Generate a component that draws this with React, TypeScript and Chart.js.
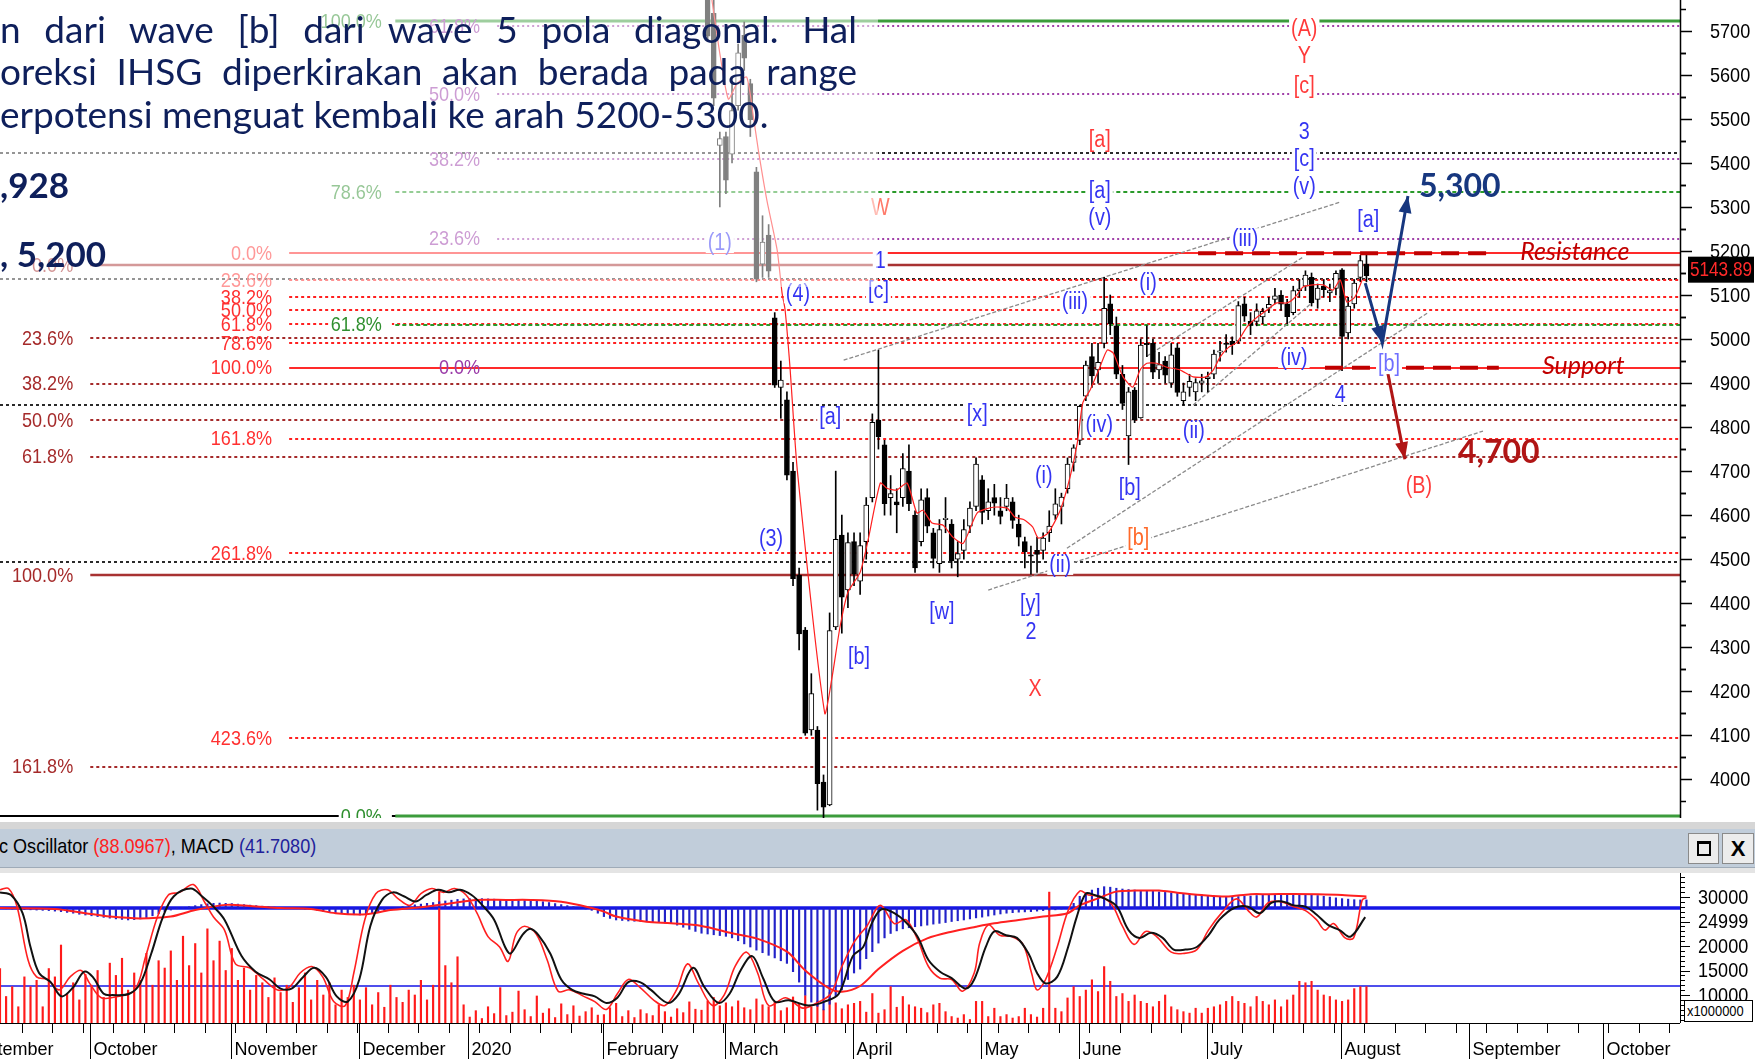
import React, { useEffect, useRef } from "react";
import { Chart, registerables } from "chart.js";

Chart.register(...registerables);

const SANS = '"Liberation Sans", Arial, sans-serif';
const LATO = 'Lato, "Open Sans", sans-serif';
const NARROW_SCALE = 0.86; // Arial-Narrow-like condensing of Liberation Sans

// ---------------- x axis : trading-day index ----------------
const X_MIN = 0;
const X_MAX = 275.4;
const monthStarts: [string, number][] = [
  ["September", -6], ["October", 15], ["November", 38], ["December", 59], ["2020", 77],
  ["February", 99], ["March", 119], ["April", 140], ["May", 161], ["June", 177],
  ["July", 198], ["August", 220], ["September", 241], ["October", 263],
];

// ---------------- price panel ----------------
const PRICE_MIN = 3912.2;
const PRICE_MAX = 5770;
const priceTicks = [4000, 4100, 4200, 4300, 4400, 4500, 4600, 4700, 4800, 4900, 5000, 5100, 5200, 5300, 5400, 5500, 5600, 5700];
const lastClose = 5143.89;

const candleStart = 116; // index of first candle (26 Feb 2020)
// [open, high, low, close]
const candles: number[][] = [
  [5775, 5800, 5680, 5688], [5740, 5775, 5530, 5547], [5440, 5470, 5300, 5455], [5460, 5470, 5330, 5361],
  [5420, 5580, 5400, 5519], [5530, 5670, 5520, 5650], [5690, 5720, 5610, 5638], [5580, 5590, 5460, 5498],
  [5380, 5390, 5130, 5136], [5170, 5280, 5140, 5220], [5236, 5260, 5140, 5154], [5048, 5060, 4890, 4895],
  [4890, 4950, 4820, 4907], [4862, 4880, 4680, 4691], [4700, 4720, 4440, 4456], [4464, 4480, 4294, 4330],
  [4339, 4345, 4100, 4105], [4112, 4240, 4100, 4195], [4112, 4120, 3930, 3990], [3994, 4010, 3912, 3937],
  [3942, 4378, 3940, 4338], [4346, 4700, 4340, 4545], [4555, 4600, 4332, 4414], [4430, 4560, 4390, 4538],
  [4540, 4560, 4440, 4466], [4450, 4560, 4420, 4531], [4540, 4640, 4500, 4623], [4640, 4830, 4630, 4811],
  [4816, 4975, 4750, 4778], [4760, 4770, 4600, 4626], [4640, 4690, 4600, 4649], [4630, 4660, 4560, 4623],
  [4640, 4740, 4620, 4706], [4700, 4760, 4610, 4626], [4600, 4610, 4470, 4480], [4540, 4660, 4530, 4635],
  [4640, 4660, 4560, 4575], [4560, 4570, 4480, 4502], [4490, 4590, 4470, 4567], [4590, 4640, 4560, 4593],
  [4580, 4590, 4480, 4496], [4500, 4540, 4460, 4513], [4520, 4590, 4500, 4567], [4575, 4630, 4560, 4616],
  [4620, 4730, 4610, 4716], [4680, 4690, 4580, 4606], [4610, 4660, 4590, 4630], [4640, 4670, 4600, 4627],
  [4610, 4640, 4580, 4597], [4620, 4670, 4610, 4639], [4630, 4640, 4570, 4588], [4580, 4600, 4530, 4550],
  [4540, 4550, 4480, 4517], [4510, 4530, 4466, 4507], [4520, 4550, 4470, 4511], [4520, 4560, 4500, 4548],
  [4560, 4610, 4540, 4575], [4600, 4660, 4590, 4626], [4620, 4650, 4580, 4641], [4660, 4730, 4650, 4716],
  [4720, 4760, 4700, 4753], [4770, 4850, 4760, 4847], [4870, 4950, 4860, 4941], [4960, 4990, 4890, 4916],
  [4930, 4990, 4900, 4947], [4990, 5140, 4980, 5070], [5080, 5100, 5010, 5035], [5030, 5050, 4910, 4920],
  [4920, 4940, 4840, 4854], [4780, 4890, 4715, 4880], [4884, 4890, 4810, 4816], [4821, 5000, 4820, 4986],
  [4990, 5030, 4960, 4987], [4990, 5000, 4910, 4925], [4930, 4970, 4910, 4942], [4950, 4960, 4900, 4918],
  [4900, 4990, 4890, 4964], [4980, 4990, 4870, 4879], [4860, 4900, 4850, 4880], [4890, 4920, 4870, 4904],
  [4880, 4910, 4860, 4901], [4900, 4920, 4880, 4905], [4910, 4925, 4880, 4914], [4920, 4975, 4910, 4966],
  [4970, 4995, 4950, 4973], [4990, 5010, 4970, 4988], [4995, 5005, 4965, 4987], [4995, 5085, 4990, 5076],
  [5080, 5095, 5040, 5052], [5040, 5060, 5010, 5031], [5040, 5080, 5030, 5064], [5050, 5070, 5035, 5063],
  [5070, 5095, 5060, 5079], [5090, 5115, 5080, 5098], [5100, 5110, 5065, 5079], [5080, 5090, 5035, 5051],
  [5060, 5120, 5055, 5110], [5110, 5135, 5095, 5114], [5120, 5155, 5110, 5145], [5140, 5150, 5075, 5082],
  [5090, 5125, 5070, 5116], [5120, 5135, 5095, 5112], [5105, 5125, 5085, 5110], [5115, 5155, 5100, 5149],
  [5157, 5160, 4928, 5006], [5014, 5095, 5000, 5075], [5080, 5135, 5070, 5127], [5140, 5190, 5130, 5178],
  [5170, 5195, 5130, 5144],
];

// red moving-average line on the candles: [index, price]
const maLine: number[][] = [
  [116.7, 5770], [118.1, 5640], [119.4, 5545], [120.8, 5580], [122.4, 5595], [123.5, 5505], [124.3, 5430],
  [125.7, 5316], [127.4, 5202], [128.2, 5105], [128.7, 5066], [129.5, 4936], [130.7, 4702], [135.2, 4150],
  [136.4, 4232], [137.7, 4346], [139, 4425], [141, 4470], [142.3, 4543], [144.3, 4673], [145.4, 4661],
  [147, 4657], [148.7, 4673], [150.3, 4605], [151.3, 4611], [152.8, 4582], [154.6, 4577], [156.2, 4550],
  [157.9, 4536], [160.2, 4605], [162.8, 4618], [165.1, 4616], [166.4, 4595], [167.8, 4590], [169.3, 4573],
  [170.2, 4548], [171.8, 4559], [173.8, 4611], [175.4, 4686], [176.6, 4764], [177.5, 4855], [178.7, 4884],
  [180.3, 4936], [181.5, 4975], [182.5, 4968], [184.1, 4914], [185.7, 4891], [186.9, 4930], [188, 4945],
  [189.6, 4945], [191.3, 4936], [193.4, 4930], [195.6, 4914], [197.7, 4914], [198.9, 4930], [200, 4959],
  [201.3, 4980], [202.8, 4993], [204.4, 5027], [206.1, 5050], [207.7, 5066], [209.3, 5082], [211, 5082],
  [212.3, 5095], [213.6, 5118], [215.2, 5123], [216.9, 5123], [218.5, 5111], [219.7, 5134], [220.8, 5084],
  [222.1, 5095], [223.3, 5134],
];

// Fibonacci levels
const blackDotLevels = [5423, 5136, 4850, 4493];
const darkRedDotted = [5002, 4899, 4816, 4733, 4029];
const darkRedDottedLabels = ["23.6%", "38.2%", "50.0%", "61.8%", "161.8%"];
const darkRedSolid = [5168, 4464];
const darkRedSolidLabels = ["0.0%", "100.0%"];
const redDotted = [5134, 5096, 5065, 5034, 4991, 4774, 4514, 4094];
const redDottedLabels = ["23.6%", "38.2%", "50.0%", "61.8%", "78.6%", "161.8%", "261.8%", "423.6%"];
const redSolid = [5195, 4935];
const redSolidLabels = ["0.0%", "100.0%"];
const purpleDotted = [5710, 5556, 5409, 5228];
const purpleDottedLabels = ["61.8%", "50.0%", "38.2%", "23.6%"];
const purpleZero = [4935];
const purpleZeroLabels = ["0.0%"];
const greenDashed = [5333, 5033];
const greenDashedLabels = ["78.6%", "61.8%"];
const greenSolid = [5722, 3916];
const greenSolidLabels = ["100.0%", "0.0%"];

// Elliott-wave labels: [text, index, price]
const blueWaveLabels: [string, number, number][] = [
  ["3", 213.8, 5472], ["[c]", 213.8, 5409], ["(v)", 213.8, 5345], ["[a]", 180.3, 5338], ["(v)", 180.3, 5275],
  ["(1)", 118, 5218], ["1", 144.3, 5177], ["[c]", 144, 5109], ["(4)", 130.8, 5104], ["(iii)", 204.1, 5229],
  ["[a]", 224.3, 5270], ["(iii)", 176.2, 5084], ["(i)", 188.2, 5127], ["(iv)", 212.1, 4957], ["4", 219.7, 4873],
  ["[a]", 136.1, 4823], ["[x]", 160.2, 4830], ["(iv)", 180.2, 4805], ["(ii)", 195.7, 4791], ["(i)", 171.1, 4689],
  ["[b]", 185.2, 4662], ["(3)", 126.4, 4546], ["(ii)", 173.8, 4487], ["[w]", 154.4, 4380], ["[y]", 168.9, 4398],
  ["2", 169, 4335], ["[b]", 140.8, 4278],
];
const paleBlueWaveLabels: [string, number, number][] = [["[b]", 227.7, 4943]];
const redWaveLabels: [string, number, number][] = [
  ["(A)", 213.8, 5706], ["Y", 213.8, 5643], ["[c]", 213.8, 5575], ["[a]", 180.3, 5452], ["X", 169.7, 4207], ["(B)", 232.6, 4668],
];
const salmonWaveLabels: [string, number, number][] = [["W", 144.3, 5298]];
const orangeWaveLabels: [string, number, number][] = [["[b]", 186.6, 4550]];

// grey channel lines: [index1, price1, index2, price2]
const trendLines: number[][] = [
  [138.3, 4952, 219.7, 5311],
  [188, 4961, 213.6, 5186],
  [195.6, 4850, 215.2, 5084],
  [174.9, 4525, 234, 5059],
  [162, 4430, 243.1, 4791],
];

const resistanceLevel = 5195;
const resistanceSpan = [196.4, 244];
const supportLevel = 4935;
const supportSpan = [217.2, 245.7];
const bluePath: number[][] = [[223.8, 5127], [226.6, 4991], [230.8, 5325]];
const redPath: number[][] = [[227.4, 4930], [230.3, 4727]];
// text notes: [text, index, baseline price]
const targetUp: [string, number, number] = ["5,300", 232.6, 5322];
const targetDown: [string, number, number] = ["4,700", 239, 4718];
const resistanceNote: [string, number, number] = ["Resistance", 249.2, 5180];
const supportNote: [string, number, number] = ["Support", 252.8, 4920];

// ---------------- oscillator panel ----------------
const volume = [
  15400, 9700, 11700, 7600, 13700, 11700, 13000, 7600, 15400, 13700, 20200, 10300, 12500, 9000, 14200,
  12000, 15000, 9500, 16500, 14000, 17500, 11000, 14500, 13000, 18500, 12000, 17000, 15500, 19000, 13000, 22000, 16000, 20500, 14500, 23500, 17000, 21000, 15000,
  19500, 13000, 15500, 11000, 14000, 12500, 9500, 13500, 10500, 12000, 8500, 11500, 14500, 9000, 13000, 10000, 12500, 8000, 11000, 9500, 12000,
  9000, 11500, 8000, 10500, 7500, 12000, 9500, 8500, 11000, 10000, 13000, 9000, 12000, 31000, 16000, 12500, 17800, 8000,
  5500, 6800, 5200, 7600, 6200, 11500, 5800, 6500, 10800, 7000, 5600, 9800, 6300, 7200, 5400, 8200, 6000, 7800, 5700, 6600, 7400, 5900,
  6000, 7400, 8300, 5600, 6800, 5400, 7000, 6200, 5800, 8000, 6600, 5500, 7200, 6400, 8600, 7100, 6900, 8800, 9500, 7800,
  8400, 7600, 8800, 7400, 7000, 9200, 8000, 7600, 8600, 6800, 7400, 9600, 8200, 9900, 7500, 8800, 7000, 10500, 8400, 7200, 8000,
  8300, 8700, 6500, 10300, 6300, 7000, 11700, 7500, 9700, 8000, 7600, 7300, 6400, 8000, 8300, 6600, 5600, 5300, 6000, 5000, 8700,
  8700, 5600, 7300, 5600, 6000, 5300, 5600, 7300, 6000, 5500, 7300, 31000, 7300, 6600, 9400, 11700,
  9700, 11000, 13100, 10700, 15800, 12800, 9700, 10300, 8700, 10000, 8700, 8300, 7600, 8700, 10000, 7600, 7000, 6600, 6300, 7300, 6300,
  7300, 7600, 8000, 8700, 9700, 8700, 8300, 7600, 9700, 8700, 8000, 9000, 7600, 9000, 10000, 12800, 12500, 12800, 11000, 10000, 9700, 9000,
  8700, 9000, 11300, 11700, 11700,
];
const volumeTicks = [10000, 15000, 20000, 24999, 30000];

const macdHist = [
  -2, -3, -4, -5, -6, -7, -8, -9, -10, -12,
  -14, -17, -20, -24, -27, -30, -33, -36, -39, -42, -44, -46, -45, -42, -37, -30, -22, -14,
  -8, -3, 2,
  5, 9, 13, 16, 18, 19, 18, 17, 15, 13, 11,
  9, 7, 5, 3, 1, 0, -1, -2, -4, -6, -9,
  -13, -16, -19, -21, -24, -26, -27, -24, -20,
  -14, -9, -4, 1, 5, 9, 12, 15, 18, 21,
  24, 27, 30, 33, 35, 36, 37,
  36, 35, 34, 33, 32, 31, 30, 29, 28, 26, 24, 21, 17, 13,
  9, 5, 1, -4, -9,
  -20, -33, -40, -46, -48, -50, -51, -52, -53, -55, -56, -58, -59, -66, -74, -82, -90, -97, -100, -103, -106, -109,
  -115, -126, -138, -150, -162, -172, -182, -192, -203, -213, -245, -285, -335, -362, -378, -392, -370, -340, -315,
  -275, -250, -235, -195, -168, -135,
  -115, -98, -88, -80, -76, -72, -69, -66, -62, -59, -56, -52, -49, -46, -42, -38, -35, -31, -27, -23, -20, -18,
  -16, -15, -14, -12, -10, -8, -7, -4, 0, 18,
  45, 58, 69, 76, 82, 80, 76, 73, 71, 69, 68, 66, 64, 62, 60, 58, 56, 55, 53, 51, 50, 48, 46, 45, 44, 44, 44, 45,
  46, 48, 49, 50, 50, 50, 51, 50, 50, 50, 49, 48, 45, 42, 39, 36, 34, 32, 31, 31,
];
const macdSignal: number[][] = [
  [0, 0], [9, -4], [14, -20], [18, -33], [23, -40], [28, -33], [32, -8], [37, 12], [41, 8], [46, 0], [51, -4],
  [55, -20], [60, -24], [64, -8], [69, 3], [74, 18], [78, 31], [83, 31], [87, 31], [92, 24], [97, 0], [99, -14],
  [101, -33], [106, -53], [110, -59], [115, -69], [120, -97], [124, -117], [129, -168], [132, -240], [136, -310],
  [138, -322], [141, -300], [144, -235], [148, -165], [152, -117], [156, -91], [160, -72], [163, -59], [167, -46],
  [171, -33], [175, -20], [177, 10], [180, 37], [183, 63], [186, 67], [190, 67], [193, 59], [197, 50], [201, 44],
  [205, 53], [208, 53], [212, 54], [216, 53], [220, 50], [224, 44],
];
const stochFast: number[][] = [
  [0, 94], [1.4, 95], [2.8, 81], [4.6, 40], [6, 27], [7.8, 25], [9.7, 17], [11.5, 27], [13.3, 32], [14.7, 22],
  [16.6, 11], [19.3, 12], [22.1, 17], [23.9, 43], [25.8, 73], [27.6, 90], [29.4, 92], [31.7, 98], [33.6, 84],
  [35, 73], [36.8, 63], [38.6, 37], [40.9, 34], [43.2, 25], [45.5, 17], [47.4, 19], [49.2, 30], [51.1, 35],
  [52.9, 27], [54.7, 8], [56.6, 5], [58, 30], [59.8, 71], [61.6, 91], [63.5, 94], [65.3, 87], [67.2, 82], [69, 91],
  [70.8, 95], [72.7, 92], [74.5, 95], [76.4, 90], [78.2, 76], [80, 58], [81.9, 50], [83.3, 39], [84.6, 60], [86, 66],
  [87.9, 60], [89.7, 40], [91.5, 16], [93.4, 17], [95.7, 12], [97.5, 8], [99.4, 2], [101.2, 14], [103, 25],
  [104.9, 19], [107.2, 9], [109, 5], [110.9, 17], [112.7, 37], [114.5, 22], [116.8, 5], [118.7, 13], [120.5, 35],
  [122.4, 46], [124.2, 30], [126, 5], [128.8, 11], [131.6, 3], [134.3, 8], [136.2, 14], [138, 35], [139.8, 52],
  [141, 60], [142.1, 66], [144.3, 82], [146.6, 68], [148.5, 71], [150.4, 56], [152.2, 35], [154.1, 26], [156, 25],
  [157.8, 16], [159.7, 30], [160.6, 53], [162, 67], [163.9, 59], [165.8, 58], [167.7, 52], [169.1, 30], [170, 17],
  [171.4, 25], [173.3, 50], [175.1, 78], [177, 93], [178.4, 90], [180.3, 89], [182.2, 83], [184, 66], [185.9, 52],
  [187.8, 62], [189.6, 58], [192, 46], [193.9, 45], [196.2, 48], [198.1, 63], [200.4, 77], [202.7, 87], [204.6, 78],
  [206, 73], [207.9, 84], [209.8, 85], [212.1, 81], [214, 78], [215.8, 71], [217.2, 63], [218.6, 68], [220.5, 57],
  [221.9, 57], [223.3, 86], [224, 88],
];
const stochSlow: number[][] = [
  [0, 92], [1.8, 90], [3.7, 76], [5, 50], [6.4, 30], [8.3, 23], [10.1, 12], [12, 19], [13.8, 31], [15.2, 27],
  [17, 14], [18.4, 13], [21.2, 14], [23, 22], [24.8, 45], [26.7, 73], [28.5, 89], [31.3, 95], [33.1, 89], [35, 81],
  [36.8, 71], [39.6, 43], [41.9, 31], [44.2, 25], [46, 18], [47.8, 18], [49.7, 27], [51.5, 34], [53.4, 27],
  [55.2, 12], [57, 8], [58.9, 25], [60.7, 66], [62.6, 86], [64.4, 92], [66.2, 89], [68.1, 85], [69.9, 90],
  [71.8, 94], [73.6, 92], [75.4, 94], [77.3, 90], [79.1, 82], [81, 71], [82.8, 50], [83.7, 45], [85.6, 59],
  [86.9, 64], [88.3, 59], [90.2, 45], [92, 25], [93.8, 17], [95.7, 14], [97.5, 12], [99.4, 7], [101.2, 11],
  [103, 23], [104.9, 23], [106.7, 17], [109.5, 7], [111.3, 14], [113.6, 34], [115.5, 19], [117.8, 7], [119.6, 14],
  [121.4, 32], [123.3, 43], [125.1, 26], [127, 8], [129.3, 9], [132.5, 5], [135.2, 8], [137.5, 14], [139.8, 43],
  [141.5, 50], [142.9, 68], [144.5, 79], [146.6, 76], [148.5, 69], [150.4, 58], [152.2, 40], [154.1, 31], [156, 26],
  [158.3, 18], [159.7, 25], [161.6, 50], [163, 62], [164.9, 59], [166.7, 57], [168.6, 45], [170, 30], [171.4, 22],
  [173.3, 27], [175.1, 50], [176.5, 73], [178, 91], [179.4, 90], [181.2, 87], [183.1, 81], [185, 63], [186.8, 57],
  [188.7, 61], [190.6, 57], [192.4, 48], [194.3, 48], [196.2, 50], [198.1, 59], [199.9, 71], [202.3, 80],
  [204.6, 81], [206.5, 76], [208.4, 84], [210.2, 85], [212.1, 82], [214, 81], [215.8, 75], [217.7, 67],
  [219.6, 63], [221.4, 58], [223.8, 73],
];
const stochLevels = [80, 20];

// ---------------- helpers ----------------
const pts = (arr: number[][]) => arr.map(([x, y]) => ({ x, y }));

// condensed text (Liberation Sans squeezed horizontally, like Arial Narrow)
function narrowText(ctx: CanvasRenderingContext2D, t: string, x: number, y: number, size: number, align: "left" | "right" | "center") {
  ctx.save();
  ctx.font = `${size}px ${SANS}`;
  ctx.translate(x, y);
  ctx.scale(NARROW_SCALE, 1);
  ctx.textAlign = align;
  ctx.fillText(t, 0, 0);
  ctx.restore();
}
function narrowWidth(ctx: CanvasRenderingContext2D, t: string, size: number) {
  ctx.save();
  ctx.font = `${size}px ${SANS}`;
  const w = ctx.measureText(t).width * NARROW_SCALE;
  ctx.restore();
  return w;
}

function arrowHead(ctx: CanvasRenderingContext2D, x0: number, y0: number, x1: number, y1: number, color: string) {
  const a = Math.atan2(y1 - y0, x1 - x0);
  const len = 17, half = 6.5;
  ctx.fillStyle = color;
  ctx.beginPath();
  ctx.moveTo(x1, y1);
  ctx.lineTo(x1 - len * Math.cos(a) + half * Math.sin(a), y1 - len * Math.sin(a) - half * Math.cos(a));
  ctx.lineTo(x1 - len * Math.cos(a) - half * Math.sin(a), y1 - len * Math.sin(a) + half * Math.cos(a));
  ctx.closePath();
  ctx.fill();
}

export default function App() {
  const mainRef = useRef<HTMLCanvasElement>(null);
  const lowRef = useRef<HTMLCanvasElement>(null);

  useEffect(() => {
    const fibGroups = [
      { levels: blackDotLevels, labels: [] as string[], start: 0, labelAt: 0, color: "#2a2a2a", lc: "#2a2a2a", width: 2, dash: [3, 3], bg: false, line: true },
      { levels: darkRedDotted, labels: darkRedDottedLabels, start: 14.8, labelAt: 12, color: "#a52a2a", lc: "#a52a2a", width: 2, dash: [3, 3], bg: false, line: true },
      { levels: darkRedSolid, labels: darkRedSolidLabels, start: 14.8, labelAt: 12, color: "#a83232", lc: "#a52a2a", width: 2.5, dash: [] as number[], bg: false, line: true },
      { levels: redDotted, labels: redDottedLabels, start: 47.4, labelAt: 44.6, color: "#ff2020", lc: "#ff3030", width: 2, dash: [3, 3], bg: false, line: true },
      { levels: redSolid, labels: redSolidLabels, start: 47.4, labelAt: 44.6, color: "#ff2a2a", lc: "#ff3030", width: 2, dash: [] as number[], bg: false, line: true },
      { levels: purpleDotted, labels: purpleDottedLabels, start: 81.5, labelAt: 78.7, color: "#a040a8", lc: "#9a3aa8", width: 2, dash: [2, 3], bg: false, line: true },
      { levels: purpleZero, labels: purpleZeroLabels, start: 81.5, labelAt: 78.7, color: "#a040a8", lc: "#9a3aa8", width: 2, dash: [2, 3], bg: false, line: false },
      { levels: greenDashed, labels: greenDashedLabels, start: 64.8, labelAt: 62.6, color: "#2a9a2a", lc: "#2f8f2f", width: 2, dash: [4, 3], bg: true, line: true },
      { levels: greenSolid, labels: greenSolidLabels, start: 64.8, labelAt: 62.6, color: "#3c9c3c", lc: "#2f8f2f", width: 3, dash: [] as number[], bg: true, line: true },
    ];

    const waveGroups: { items: [string, number, number][]; color: string }[] = [
      { items: blueWaveLabels, color: "#3434f2" },
      { items: paleBlueWaveLabels, color: "#6f6fff" },
      { items: redWaveLabels, color: "#ff3a3a" },
      { items: salmonWaveLabels, color: "#ff7a6a" },
      { items: orangeWaveLabels, color: "#ff6a2a" },
    ];

    const mainPlugin = {
      id: "mainDecor",
      beforeDatasetsDraw(chart: any) {
        const { ctx, chartArea: a, scales } = chart;
        const x = scales.x, y = scales.y;
        ctx.save();
        ctx.beginPath();
        ctx.rect(a.left, a.top, a.right - a.left, a.bottom - a.top);
        ctx.clip();
        ctx.strokeStyle = "#000";
        ctx.lineWidth = 2;
        ctx.beginPath();
        ctx.moveTo(a.left, a.bottom - 2);
        ctx.lineTo(a.right, a.bottom - 2);
        ctx.stroke();
        for (const g of fibGroups) {
          if (!g.line) continue;
          ctx.strokeStyle = g.color;
          ctx.lineWidth = g.width;
          ctx.setLineDash(g.dash);
          for (const lv of g.levels) {
            const py = Math.round(y.getPixelForValue(lv));
            ctx.beginPath();
            ctx.moveTo(x.getPixelForValue(g.start), py);
            ctx.lineTo(a.right, py);
            ctx.stroke();
          }
        }
        ctx.setLineDash([]);
        ctx.textBaseline = "middle";
        for (const g of fibGroups) {
          g.labels.forEach((t, i) => {
            const px = x.getPixelForValue(g.labelAt);
            const py = y.getPixelForValue(g.levels[i]);
            if (g.bg) {
              const w = narrowWidth(ctx, t, 21);
              ctx.fillStyle = "#fff";
              ctx.fillRect(px - w - 2, py - 9, w + 12, 18);
            }
            ctx.fillStyle = g.lc;
            narrowText(ctx, t, px, py + 1, 21, "right");
          });
        }
        ctx.restore();
      },
      afterDatasetsDraw(chart: any) {
        const { ctx, chartArea: a, scales } = chart;
        const x = scales.x, y = scales.y;
        const P = (p: number[]) => [x.getPixelForValue(p[0]), y.getPixelForValue(p[1])];
        ctx.save();
        ctx.beginPath();
        ctx.rect(a.left, a.top, a.right - a.left, a.bottom - a.top);
        ctx.clip();
        for (let i = 1; i < bluePath.length; i++) {
          const [x0, y0] = P(bluePath[i - 1]);
          const [x1, y1] = P(bluePath[i]);
          arrowHead(ctx, x0, y0, x1, y1, "#17377f");
        }
        {
          const [x0, y0] = P(redPath[0]);
          const [x1, y1] = P(redPath[1]);
          arrowHead(ctx, x0, y0, x1, y1, "#b01515");
        }
        ctx.textBaseline = "middle";
        for (const g of waveGroups) {
          for (const [t, ix, pr] of g.items) {
            const [px, py] = P([ix, pr]);
            const w = narrowWidth(ctx, t, 23);
            ctx.fillStyle = "#fff";
            ctx.fillRect(px - w / 2 - 2, py - 10, w + 4, 20);
            ctx.fillStyle = g.color;
            narrowText(ctx, t, px, py + 1, 23, "center");
          }
        }
        ctx.textAlign = "left";
        ctx.textBaseline = "alphabetic";
        ctx.font = `bold 32px ${LATO}`;
        {
          const [px, py] = P([targetUp[1], targetUp[2]]);
          ctx.fillStyle = "#17377f";
          ctx.fillText(targetUp[0], px, py);
          const [qx, qy] = P([targetDown[1], targetDown[2]]);
          ctx.fillStyle = "#b01515";
          ctx.fillText(targetDown[0], qx, qy);
        }
        ctx.font = `italic 25px ${LATO}`;
        ctx.fillStyle = "#c00000";
        for (const n of [resistanceNote, supportNote]) {
          const [px, py] = P([n[1], n[2]]);
          ctx.fillText(n[0], px, py);
        }
        ctx.restore();
      },
      afterDraw(chart: any) {
        const { ctx, chartArea: a, scales } = chart;
        const y = scales.y;
        ctx.save();
        ctx.strokeStyle = "#000";
        ctx.lineWidth = 1.5;
        ctx.beginPath();
        ctx.moveTo(a.right + 0.5, 0);
        ctx.lineTo(a.right + 0.5, a.bottom);
        ctx.stroke();
        for (const v of priceTicks) {
          for (const [dv, len] of [[0, 12], [50, 6], [-50, 6]]) {
            const py = Math.round(y.getPixelForValue(v + dv)) + 0.5;
            if (py < a.top || py > a.bottom) continue;
            ctx.beginPath();
            ctx.moveTo(a.right, py);
            ctx.lineTo(a.right + len, py);
            ctx.stroke();
          }
        }
        ctx.fillStyle = "#000";
        ctx.textBaseline = "middle";
        for (const v of priceTicks) {
          narrowText(ctx, String(v), a.right + 30, y.getPixelForValue(v) + 1, 21, "left");
        }
        const ly = y.getPixelForValue(lastClose) - 6;
        ctx.fillStyle = "#000";
        ctx.fillRect(a.right + 8, ly - 13, 66, 26);
        ctx.fillStyle = "#ff2a2a";
        narrowText(ctx, lastClose.toFixed(2), a.right + 41, ly + 1, 20, "center");
        ctx.restore();
      },
    };

    const bodies = candles.map((c, i) => ({ x: candleStart + i, y: [Math.min(c[0], c[3]), Math.max(c[0], c[3])] }));
    const wicks = candles.map((c, i) => ({ x: candleStart + i, y: [c[2], c[1]] }));
    const bodyColors = candles.map((c) => (c[3] >= c[0] ? "#ffffff" : "#000000"));

    const mainDatasets: any[] = [
      ...trendLines.map((t) => ({
        type: "line", data: [{ x: t[0], y: t[1] }, { x: t[2], y: t[3] }], borderColor: "#8a8a8a",
        borderWidth: 1.3, borderDash: [4, 2], pointRadius: 0, order: 7, clip: 0,
      })),
      { type: "bar", data: wicks, backgroundColor: "#000", barThickness: 1, grouped: false, order: 6, clip: 0 },
      {
        type: "bar", data: bodies, backgroundColor: bodyColors, borderColor: "#000", borderWidth: 1,
        borderSkipped: false, barThickness: 5, grouped: false, order: 5, clip: 0,
      },
      { type: "line", data: pts(maLine), borderColor: "#ff2020", borderWidth: 1.2, pointRadius: 0, tension: 0.2, order: 4, clip: 0 },
      {
        type: "line", data: [{ x: resistanceSpan[0], y: resistanceLevel }, { x: resistanceSpan[1], y: resistanceLevel }],
        borderColor: "#c00000", borderWidth: 4, borderDash: [18, 9], pointRadius: 0, order: 3, clip: 0,
      },
      {
        type: "line", data: [{ x: supportSpan[0], y: supportLevel }, { x: supportSpan[1], y: supportLevel }],
        borderColor: "#c00000", borderWidth: 4, borderDash: [18, 9], pointRadius: 0, order: 3, clip: 0,
      },
      { type: "line", data: pts(bluePath), borderColor: "#17377f", borderWidth: 3, pointRadius: 0, tension: 0, order: 2, clip: 0 },
      { type: "line", data: pts(redPath), borderColor: "#b01515", borderWidth: 3, pointRadius: 0, tension: 0, order: 2, clip: 0 },
    ];

    const main = new Chart(mainRef.current as HTMLCanvasElement, {
      type: "bar",
      data: { datasets: mainDatasets },
      options: {
        responsive: false,
        animation: false,
        devicePixelRatio: 1,
        events: [],
        layout: { padding: { left: 0, top: 0, right: 75, bottom: 2 } },
        plugins: { legend: { display: false }, tooltip: { enabled: false } },
        scales: {
          x: { type: "linear", min: X_MIN, max: X_MAX, display: false, offset: false },
          y: { type: "linear", min: PRICE_MIN, max: PRICE_MAX, display: false },
        },
      } as any,
      plugins: [mainPlugin],
    });

    const lowPlugin = {
      id: "lowDecor",
      beforeDatasetsDraw(chart: any) {
        const { ctx, chartArea: a, scales } = chart;
        ctx.save();
        ctx.strokeStyle = "#1515e6";
        stochLevels.forEach((lv, i) => {
          const py = scales.ys.getPixelForValue(lv);
          ctx.lineWidth = i === 0 ? 3.5 : 1.6;
          ctx.beginPath();
          ctx.moveTo(a.left, py);
          ctx.lineTo(a.right, py);
          ctx.stroke();
        });
        ctx.restore();
      },
      afterDraw(chart: any) {
        const { ctx, chartArea: a, scales, height } = chart;
        const x = scales.x;
        ctx.save();
        ctx.strokeStyle = "#000";
        ctx.lineWidth = 1;
        ctx.beginPath();
        ctx.moveTo(0, a.bottom + 0.5);
        ctx.lineTo(a.right, a.bottom + 0.5);
        ctx.moveTo(a.right + 0.5, a.top);
        ctx.lineTo(a.right + 0.5, a.bottom);
        ctx.stroke();
        for (let i = 3.6; i < X_MAX; i += 5) {
          const px = Math.round(x.getPixelForValue(i)) + 0.5;
          ctx.beginPath();
          ctx.moveTo(px, a.bottom);
          ctx.lineTo(px, a.bottom + 10);
          ctx.stroke();
        }
        ctx.font = `18px ${SANS}`;
        ctx.fillStyle = "#000";
        ctx.textAlign = "left";
        ctx.textBaseline = "alphabetic";
        for (const [name, idx] of monthStarts) {
          const px = Math.round(x.getPixelForValue(idx - 0.2)) + 0.5;
          ctx.beginPath();
          ctx.moveTo(px, a.bottom);
          ctx.lineTo(px, height);
          ctx.stroke();
          ctx.fillText(name, px + 3, height - 4);
        }
        const yv = scales.yv;
        for (let v = 5000; v <= 34000; v += 1000) {
          const py = Math.round(yv.getPixelForValue(v)) + 0.5;
          const major = v % 5000 === 0;
          ctx.beginPath();
          ctx.moveTo(a.right, py);
          ctx.lineTo(a.right + (major ? 10 : 5), py);
          ctx.stroke();
        }
        ctx.textBaseline = "middle";
        for (const v of volumeTicks) {
          narrowText(ctx, String(v), a.right + 18, yv.getPixelForValue(v) + 1, 21, "left");
        }
        ctx.restore();
      },
    };

    const low = new Chart(lowRef.current as HTMLCanvasElement, {
      type: "bar",
      data: {
        datasets: [
          {
            type: "bar", data: volume.map((v, i) => ({ x: i, y: v })), backgroundColor: "#ff1a1a",
            barThickness: 1.5, grouped: false, yAxisID: "yv", order: 6, clip: 0,
          },
          {
            type: "bar", data: macdHist.map((v, i) => ({ x: i, y: v })), backgroundColor: "#2222c8",
            barThickness: 1.5, grouped: false, yAxisID: "ym", order: 5, clip: 0,
          },
          { type: "line", data: pts(macdSignal), borderColor: "#ff2020", borderWidth: 2, pointRadius: 0, tension: 0.3, yAxisID: "ym", order: 4, clip: 0 },
          { type: "line", data: pts(stochFast), borderColor: "#ff2020", borderWidth: 1.6, pointRadius: 0, tension: 0.35, yAxisID: "ys", order: 3, clip: 0 },
          { type: "line", data: pts(stochSlow), borderColor: "#111", borderWidth: 2, pointRadius: 0, tension: 0.35, yAxisID: "ys", order: 2, clip: 0 },
        ] as any[],
      },
      options: {
        responsive: false,
        animation: false,
        devicePixelRatio: 1,
        events: [],
        layout: { padding: { left: 0, top: 0, right: 75, bottom: 36 } },
        plugins: { legend: { display: false }, tooltip: { enabled: false } },
        scales: {
          x: { type: "linear", min: X_MIN, max: X_MAX, display: false, offset: false },
          yv: { type: "linear", min: 4286, max: 34898, display: false },
          ym: { type: "linear", min: -442.3, max: 134.6, display: false },
          ys: { type: "linear", min: -8.46, max: 106.9, display: false },
        },
      } as any,
      plugins: [lowPlugin],
    });

    return () => {
      main.destroy();
      low.destroy();
    };
  }, []);

  const navy = "#0e1f5b";
  const para: React.CSSProperties = {
    position: "absolute", left: 0, width: 857, font: `37px ${LATO}`, lineHeight: "43px", color: navy,
    whiteSpace: "nowrap", margin: 0,
  };
  const narrowSpan: React.CSSProperties = {
    display: "inline-block", transform: `scaleX(${NARROW_SCALE})`, transformOrigin: "0 50%", whiteSpace: "nowrap",
  };

  return (
    <div style={{ position: "fixed", left: 0, top: 0, width: 1755, height: 1059, background: "#fff", overflow: "hidden" }}>
      <canvas ref={mainRef} width={1755} height={820} style={{ position: "absolute", left: 0, top: 0, width: 1755, height: 820 }} />
      <div style={{ position: "absolute", left: 0, top: 0, width: 878, height: 287, background: "rgba(255,255,255,0.5)" }} />
      <div style={{ ...para, top: 7, textAlign: "justify", textAlignLast: "justify" }}>n dari wave [b] dari wave 5 pola diagonal. Hal</div>
      <div style={{ ...para, top: 49, textAlign: "justify", textAlignLast: "justify" }}>oreksi IHSG diperkirakan akan berada pada range</div>
      <div style={{ ...para, top: 92, textAlign: "left" }}>erpotensi menguat kembali ke arah 5200-5300.</div>
      <div style={{ position: "absolute", left: 0, top: 164, font: `bold 35px ${LATO}`, lineHeight: "40px", color: navy, whiteSpace: "nowrap" }}>,928</div>
      <div style={{ position: "absolute", left: 0, top: 233, font: `bold 35px ${LATO}`, lineHeight: "40px", color: navy, whiteSpace: "nowrap" }}>, 5,200</div>

      <div style={{ position: "absolute", left: 0, top: 822, width: 1755, height: 7, background: "#d6d6d6" }} />
      <div style={{
        position: "absolute", left: 0, top: 829, width: 1755, height: 39, background: "#c1cdda",
        borderBottom: "1px solid #9fabb8", boxSizing: "border-box",
      }}>
        <div style={{ position: "absolute", left: -1, top: 0, font: `21px ${SANS}`, lineHeight: "34px", color: "#000" }}>
          <span style={narrowSpan}>
            c Oscillator <span style={{ color: "#ff2020" }}>(88.0967)</span>, MACD <span style={{ color: "#22229a" }}>(41.7080)</span>
          </span>
        </div>
        <div style={{ position: "absolute", left: 1688, top: 4, width: 31, height: 31, background: "#ececec", border: "1px solid #8a8a8a", boxSizing: "border-box" }}>
          <div style={{ position: "absolute", left: 8, top: 7, width: 14, height: 15, borderTop: "3px solid #000", borderLeft: "2px solid #000", borderRight: "2px solid #000", borderBottom: "2px solid #000", boxSizing: "border-box" }} />
        </div>
        <div style={{ position: "absolute", left: 1722, top: 4, width: 32, height: 31, background: "#ececec", border: "1px solid #8a8a8a", boxSizing: "border-box", font: `bold 22px ${SANS}`, lineHeight: "29px", textAlign: "center", color: "#000" }}>X</div>
      </div>
      <div style={{ position: "absolute", left: 0, top: 868, width: 1755, height: 5, background: "#e4e4e4" }} />
      <canvas ref={lowRef} width={1755} height={186} style={{ position: "absolute", left: 0, top: 873, width: 1755, height: 186 }} />
      <div style={{
        position: "absolute", left: 1684, top: 1000, width: 69, height: 22, background: "#fff", border: "1px solid #000",
        boxSizing: "border-box", font: `15px ${SANS}`, lineHeight: "20px", color: "#000", overflow: "hidden",
      }}>
        <span style={{ ...narrowSpan, marginLeft: 2 }}>x1000000</span>
      </div>
    </div>
  );
}
